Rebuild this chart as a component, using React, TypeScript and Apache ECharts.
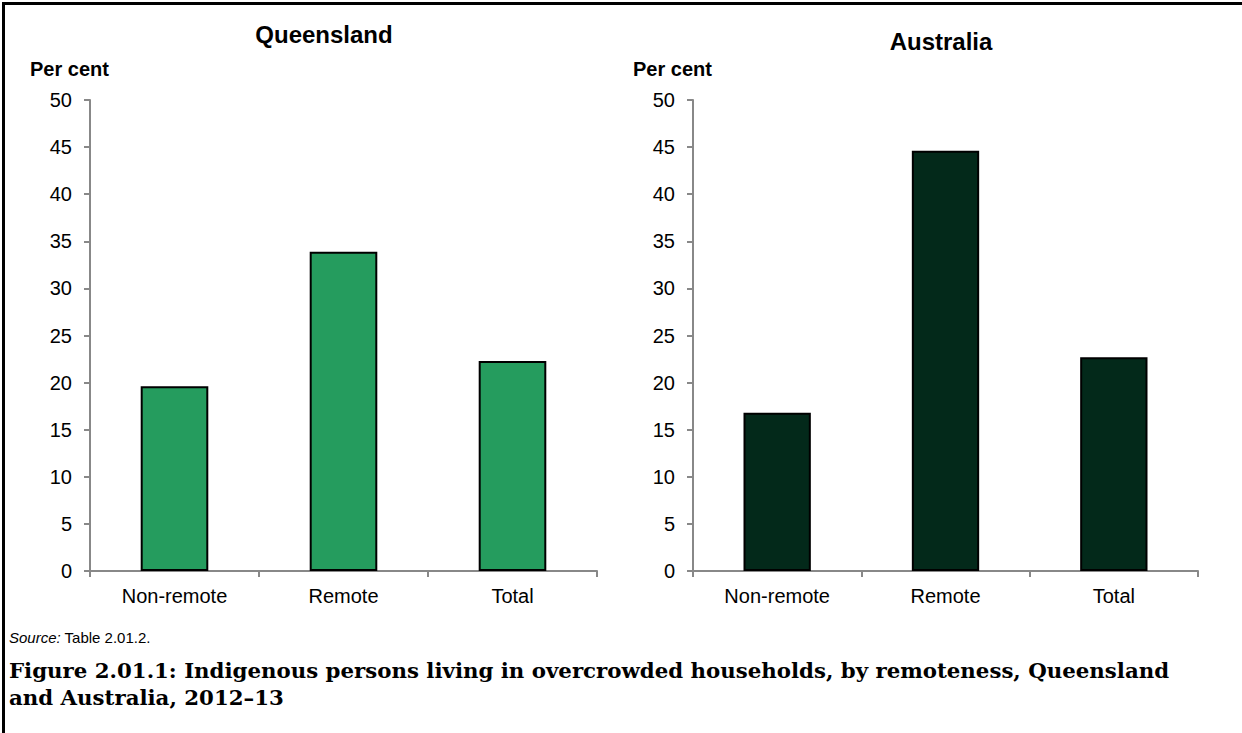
import React, { useEffect, useRef } from "react";
import * as echarts from "echarts";

const categories = ["Non-remote", "Remote", "Total"];
const queenslandValues = [19.6, 33.9, 22.3];
const australiaValues = [16.8, 44.6, 22.7];
const yTicks = { min: 0, max: 50, interval: 5 };

const FONT = "'Liberation Sans', Arial, sans-serif";

export default function App() {
  const ref = useRef<HTMLDivElement>(null);
  useEffect(() => {
    if (!ref.current) return;
    const chart = echarts.init(ref.current, null, { renderer: "svg" });
    const xAxisBase = (gridIndex: number) => ({
      type: "category",
      gridIndex,
      data: categories,
      boundaryGap: true,
      axisLine: { show: true, lineStyle: { color: "#888888", width: 2 } },
      axisTick: { show: true, alignWithLabel: false, length: 6, lineStyle: { color: "#888888", width: 2 } },
      axisLabel: { fontFamily: FONT, fontSize: 20, color: "#000", margin: 15 },
    });
    const yAxisBase = (gridIndex: number) => ({
      type: "value",
      gridIndex,
      min: yTicks.min,
      max: yTicks.max,
      interval: yTicks.interval,
      axisLine: { show: true, lineStyle: { color: "#888888", width: 2 } },
      axisTick: { show: true, length: 6, lineStyle: { color: "#888888", width: 2 } },
      splitLine: { show: false },
      axisLabel: { fontFamily: FONT, fontSize: 20, color: "#000", margin: 18 },
    });
    chart.setOption({
      animation: false,
      backgroundColor: "#fff",
      grid: [
        { left: 90, top: 100, width: 507, height: 471 },
        { left: 693, top: 100, width: 505, height: 471 },
      ],
      xAxis: [xAxisBase(0), xAxisBase(1)],
      yAxis: [yAxisBase(0), yAxisBase(1)],
      series: [
        {
          type: "bar",
          xAxisIndex: 0,
          yAxisIndex: 0,
          data: queenslandValues,
          barWidth: "40%",
          itemStyle: { color: "#259C5E", borderColor: "#000", borderWidth: 2 },
        },
        {
          type: "bar",
          xAxisIndex: 1,
          yAxisIndex: 1,
          data: australiaValues,
          barWidth: "40%",
          itemStyle: { color: "#03291A", borderColor: "#000", borderWidth: 2 },
        },
      ],
      graphic: [
        { type: "rect", shape: { x: 2, y: 2, width: 1240, height: 3 }, style: { fill: "#000" } },
        { type: "rect", shape: { x: 2, y: 2, width: 3, height: 731 }, style: { fill: "#000" } },
        {
          type: "text", x: 324, y: 34,
          style: { text: "Queensland", font: `bold 24px ${FONT}`, fill: "#000", align: "center", verticalAlign: "middle" },
        },
        {
          type: "text", x: 941, y: 41,
          style: { text: "Australia", font: `bold 24px ${FONT}`, fill: "#000", align: "center", verticalAlign: "middle" },
        },
        {
          type: "text", x: 30, y: 69,
          style: { text: "Per cent", font: `bold 20px ${FONT}`, fill: "#000", align: "left", verticalAlign: "middle" },
        },
        {
          type: "text", x: 633, y: 69,
          style: { text: "Per cent", font: `bold 20px ${FONT}`, fill: "#000", align: "left", verticalAlign: "middle" },
        },
        {
          type: "text", x: 9, y: 637,
          style: {
            text: "{i|Source:} Table 2.01.2.",
            font: `15px ${FONT}`, fill: "#000", align: "left", verticalAlign: "middle",
            rich: { i: { fontStyle: "italic", fontFamily: FONT, fontSize: 15 } },
          },
        },
        {
          type: "text", x: 9, y: 670,
          style: {
            text: "Figure 2.01.1: Indigenous persons living in overcrowded households, by remoteness, Queensland",
            font: `bold 21.3px 'DejaVu Serif', serif`, fill: "#000", align: "left", verticalAlign: "middle",
          },
        },
        {
          type: "text", x: 9, y: 697,
          style: {
            text: "and Australia, 2012–13",
            font: `bold 21.3px 'DejaVu Serif', serif`, fill: "#000", align: "left", verticalAlign: "middle",
          },
        },
      ],
    });
    return () => chart.dispose();
  }, []);
  return (
    <div
      ref={ref}
      style={{ position: "fixed", left: 0, top: 0, width: 1242, height: 733, background: "#fff" }}
    />
  );
}
